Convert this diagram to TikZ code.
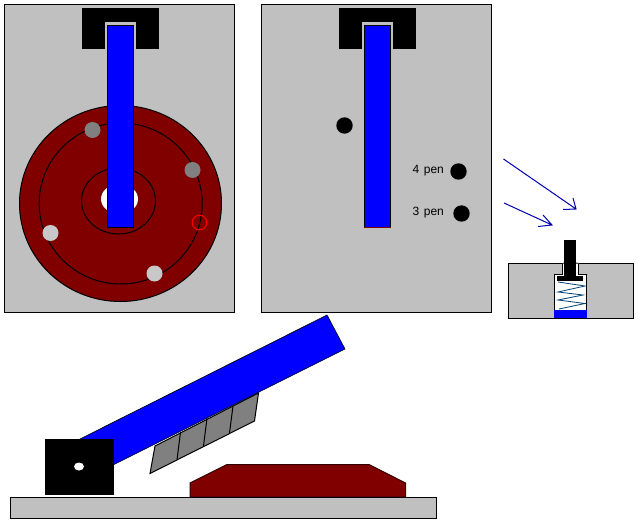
\documentclass[tikz,border=0pt]{standalone}
\usepackage{fontspec}
\setmainfont{Liberation Sans}
\definecolor{panelgrey}{HTML}{C0C0C0}
\definecolor{discred}{HTML}{800000}
\definecolor{armblue}{HTML}{0000FF}
\definecolor{bladegrey}{HTML}{808080}
\definecolor{lightdot}{HTML}{C8C8C8}
\definecolor{arrowblue}{HTML}{0000B0}
\definecolor{springblue}{HTML}{004478}
\tikzset{
  panel/.style={draw=black,fill=panelgrey,line width=1pt},
  solidblack/.style={fill=black},
  arm/.style={draw=black,fill=armblue,line width=1pt},
  disc/.style={draw=black,fill=discred,line width=1pt},
  ring/.style={draw=black,line width=1pt},
  blade/.style={draw=black,fill=bladegrey,line width=1pt},
  pointer/.style={draw=arrowblue,line width=1pt},
  penlabel/.style={font=\fontsize{12}{14}\selectfont,text=black,inner sep=0pt,anchor=west}
}
\begin{document}
\begin{tikzpicture}[x=1pt,y=-1pt]
\useasboundingbox (0,0) rectangle (639,529);
\fill[white] (0,0) rectangle (639,529);
% left panel
\draw[panel] (4.5,4.5) rectangle (234.5,312.5);
\fill[solidblack] (82,8) rectangle (159,49);
\fill[panelgrey] (105,22) rectangle (136,49);
\draw[disc] (120.5,203.5) ellipse [x radius=101,y radius=98];
\draw[ring] (120.7,203.5) ellipse [x radius=81.5,y radius=80.5];
\draw[ring] (118.5,201) ellipse [x radius=37,y radius=33];
\fill[white] (119.5,199) ellipse [x radius=18.5,y radius=15];
\fill[bladegrey] (92.5,130) circle (8);
\fill[bladegrey] (192.5,170) circle (8);
\fill[lightdot] (50.5,233) circle (8);
\fill[lightdot] (154.5,273.5) circle (8);
\draw[draw=red,line width=1pt] (199.5,222.5) circle (7.3);
\draw[arm] (107.5,25.5) rectangle (133.5,227.5);
% middle panel
\draw[panel] (261.5,4.5) rectangle (491.5,312.5);
\fill[solidblack] (339,8) rectangle (416,49);
\fill[panelgrey] (362,22) rectangle (393,49);
\draw[arm] (364.5,25.5) rectangle (390.5,227.5);
\draw[draw=discred,line width=1pt] (364,227.5) -- (391,227.5);
\fill[solidblack] (344.5,125.5) circle (8.2);
\fill[solidblack] (458.5,171.5) circle (8.2);
\fill[solidblack] (461.5,213.5) circle (8.2);
\node[penlabel] (pen4) at (412.5,171) {4\hspace{4.5pt}pen};
\node[penlabel] (pen3) at (412.5,213) {3\hspace{4.5pt}pen};
% arrows
\draw[pointer] (503.5,159) -- (576,209) (573,198) -- (576,209) -- (563,209.5);
\draw[pointer] (504,203) -- (552,225) (543,215) -- (552,225) -- (538,226.5);
% small panel
\draw[panel] (508.5,263.5) rectangle (633.5,318.5);
\draw[draw=black,fill=white,line width=1pt] (562.5,263.5) -- (562.5,274.5) -- (554.5,274.5) -- (554.5,318) -- (586.5,318) -- (586.5,274.5) -- (578.5,274.5) -- (578.5,263.5);
\fill[panelgrey] (563,262) rectangle (578,263);
\fill[solidblack] (564,240) rectangle (576,277);
\fill[solidblack] (557,276) rectangle (583,281);
\fill[armblue] (554,310) rectangle (587,318.5);
\draw[draw=black,line width=1pt] (554,318.5) -- (587,318.5);
\draw[draw=springblue,line width=.8pt] (558,282) -- (585,286) -- (558,292) -- (583,295) -- (558,300) -- (585,303.5) -- (559,309);
% lower assembly
\draw[panel] (10.5,497.5) rectangle (436.5,518.5);
\draw[disc,draw=black!60!discred] (190,497) -- (190,483) -- (227,464.5) -- (369,464.5) -- (405.5,483) -- (405.5,497) -- cycle;
\draw[black,line width=1pt] (190,497.5) -- (406,497.5);
\draw[blade] (258.5,393) -- (254.5,421) -- (150,473.5) -- (155,446) -- cycle;
\draw[black,line width=1pt] (180.5,432) -- (177,460) (207,418) -- (203.5,446) (233,406) -- (229.5,433);
\draw[draw=black,fill=armblue,line width=.6pt] (327,315) -- (345,349) -- (114,464.5) -- (80,439) -- cycle;
\fill[solidblack] (45,439) rectangle (114,495);
\fill[white] (79,466.5) ellipse [x radius=5,y radius=4];
\end{tikzpicture}
\end{document}
